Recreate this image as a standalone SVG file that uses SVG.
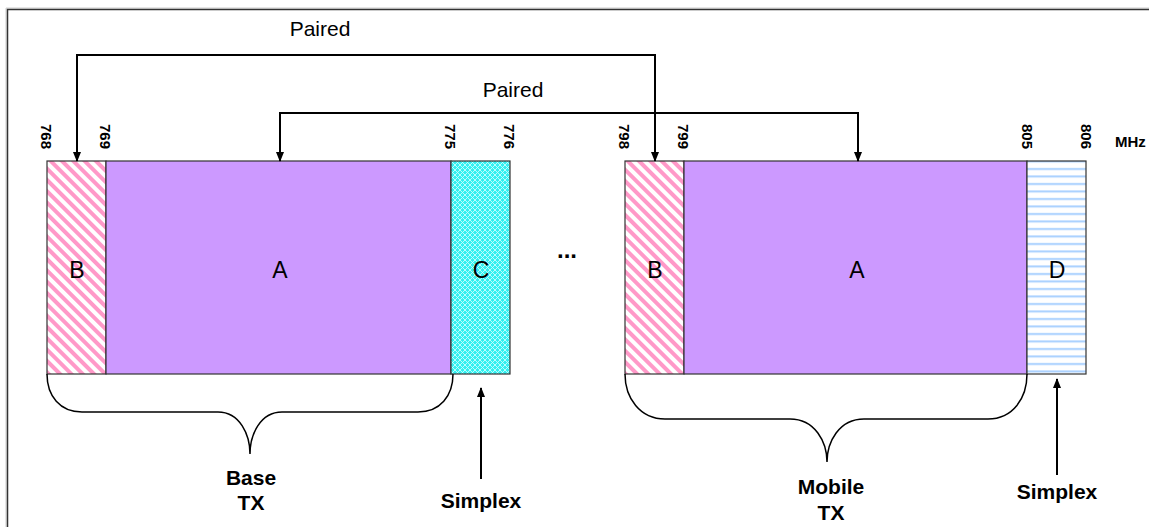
<svg xmlns="http://www.w3.org/2000/svg" width="1149" height="527" viewBox="0 0 1149 527">
<style>
text{font-family:"Liberation Sans",Arial,sans-serif;fill:#000}
.freq{font-size:15px;font-weight:bold}
.lbl{font-size:23px;text-anchor:middle}
.pair{font-size:21px;text-anchor:middle}
.cap{font-size:21px;font-weight:bold;text-anchor:middle}
.blk{stroke:#333;stroke-width:1.2}
.conn{fill:none;stroke:#000;stroke-width:2}
.brace{fill:none;stroke:#000;stroke-width:1.5}
</style>
<defs>
<pattern id="pinkStripe" width="8" height="8" patternUnits="userSpaceOnUse" patternTransform="rotate(-45)">
<rect width="8" height="8" fill="#fff"/>
<rect width="4" height="8" fill="#ff99c8"/>
</pattern>
<pattern id="cyanGrid" width="5" height="5" patternUnits="userSpaceOnUse">
<rect width="5" height="5" fill="#33f0f0"/>
<path d="M0 0L5 5M5 0L0 5" stroke="#c8ffff" stroke-width="0.9"/>
</pattern>
<pattern id="blueLines" width="8" height="7.5" patternUnits="userSpaceOnUse">
<rect width="8" height="7.5" fill="#fff"/>
<rect y="3" width="8" height="2" fill="#a8d0ff"/>
</pattern>
<marker id="arr" markerWidth="10" markerHeight="10" refX="9" refY="5" orient="auto-start-reverse" markerUnits="userSpaceOnUse">
<path d="M0 1L10 5L0 9Z" fill="#000"/>
</marker>
</defs>
<rect width="1149" height="527" fill="#fff"/>
<g id="frame">
<path d="M6 527V8H1149" fill="none" stroke="#ccc" stroke-width="1"/>
<path d="M7.5 527V9.5H1149" fill="none" stroke="#333" stroke-width="1.5"/>
</g>

<g id="base-B"><rect class="blk" x="47" y="161" width="59" height="213" fill="url(#pinkStripe)"/><text class="lbl" x="77" y="278">B</text></g>
<g id="base-A"><rect class="blk" x="106" y="161" width="345" height="213" fill="#cc99ff"/><text class="lbl" x="280" y="278">A</text></g>
<g id="base-C"><rect class="blk" x="451" y="161" width="59" height="213" fill="url(#cyanGrid)"/><text class="lbl" x="481" y="278">C</text></g>

<g id="mob-B"><rect class="blk" x="625" y="161" width="59" height="213" fill="url(#pinkStripe)"/><text class="lbl" x="655" y="278">B</text></g>
<g id="mob-A"><rect class="blk" x="684" y="161" width="343" height="213" fill="#cc99ff"/><text class="lbl" x="857" y="278">A</text></g>
<g id="mob-D"><rect class="blk" x="1027" y="161" width="59" height="213" fill="url(#blueLines)"/><text class="lbl" x="1057" y="278">D</text></g>

<g id="freqs">
<text class="freq" transform="translate(41,124) rotate(90)">768</text>
<text class="freq" transform="translate(100,124) rotate(90)">769</text>
<text class="freq" transform="translate(445,124) rotate(90)">775</text>
<text class="freq" transform="translate(504,124) rotate(90)">776</text>
<text class="freq" transform="translate(619,124) rotate(90)">798</text>
<text class="freq" transform="translate(678,124) rotate(90)">799</text>
<text class="freq" transform="translate(1022,124) rotate(90)">805</text>
<text class="freq" transform="translate(1081,124) rotate(90)">806</text>
<text class="freq" x="1115" y="147">MHz</text>
</g>

<text id="dots" x="567" y="258" style="font-size:24px;font-weight:bold;text-anchor:middle">...</text>

<g id="connectors">
<path class="conn" d="M77 161V55H655V161" marker-start="url(#arr)" marker-end="url(#arr)"/>
<path class="conn" d="M280 161V113H858V161" marker-start="url(#arr)" marker-end="url(#arr)"/>
<path class="conn" d="M481 479V388" marker-end="url(#arr)"/>
<path class="conn" d="M1057 475V379" marker-end="url(#arr)"/>
<path class="brace" d="M47 374C47 396 60 412 82 412H218C240 412 250 435 250 454C250 435 260 412 282 412H418C440 412 453 396 453 374"/>
<path class="brace" d="M625 374C625 398 640 419 665 419H790C815 419 827 442 827 462C827 442 839 419 864 419H988C1013 419 1027 398 1027 374"/>
</g>

<g id="labels">
<text class="pair" x="320" y="36">Paired</text>
<text class="pair" x="513" y="97">Paired</text>
<text class="cap" x="251" y="485">Base</text>
<text class="cap" x="251" y="510">TX</text>
<text class="cap" x="481" y="508">Simplex</text>
<text class="cap" x="831" y="494">Mobile</text>
<text class="cap" x="831" y="520">TX</text>
<text class="cap" x="1057" y="499">Simplex</text>
</g>
</svg>
